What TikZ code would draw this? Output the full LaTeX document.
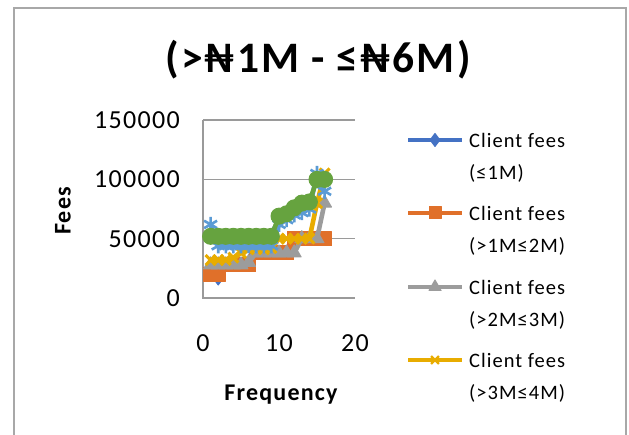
\documentclass[tikz,border=0pt]{standalone}
\usepackage{fontspec}
\setmainfont{Carlito}[LetterSpace=5]
\usetikzlibrary{plotmarks}

\definecolor{serA}{HTML}{4472C4}
\definecolor{serB}{HTML}{E0702A}
\definecolor{serC}{HTML}{9C9C9C}
\definecolor{serD}{HTML}{E8AC00}
\definecolor{serE}{HTML}{5B9BD5}
\definecolor{serF}{HTML}{66A33F}
\definecolor{gridgray}{HTML}{9A9A9A}
\definecolor{framegray}{HTML}{A8A8A8}

\tikzset{
  gridline/.style={draw=gridgray, line width=1.6pt},
  series/.style={draw=#1, line width=4.6pt, line join=round,
    mark options={draw=#1, fill=#1, solid, line width=1pt}},
  keyseries/.style={series=#1, line width=4.2pt},
  ticklabel/.style={font=\fontsize{26}{28}\selectfont, inner sep=0pt},
  keytext/.style={font=\fontsize{20.5}{24}\selectfont, anchor=west, inner sep=0pt},
  axistitle/.style={font=\bfseries\fontsize{24}{27}\selectfont, inner sep=0pt},
}

\begin{document}
\begin{tikzpicture}[x=1pt, y=1pt]
    \useasboundingbox (0,0) rectangle (629,435);
    \clip (0,0) rectangle (629,435);
    \draw[framegray, line width=2pt] (13.5,-10) rectangle (626,426.5);

    \node (title) [font=\bfseries\fontsize{43.5}{48}\selectfont, inner sep=0pt] at (318,375) {(>₦1M - ≤₦6M)};
    \node (ytitle) [axistitle, rotate=90] at (63,224) {Fees};
    \node (xtitle) [axistitle] at (281,40) {Frequency};

    % plot area: frequency 0..20 across, fees in thousands up
    \begin{scope}[shift={(203,137)}, x=7.6pt, y=1.186pt]
        \draw[gridline] (0,50) -- (20,50);
        \draw[gridline] (0,100) -- (20,100);
        \draw[gridline] (0,150) -- (20,150);
        \draw[gridline] (0,150) -- (0,0) -- (20,0);

        \node (y0)   [ticklabel, anchor=east] at ([xshift=-23pt]0,0)   {0};
        \node (y50)  [ticklabel, anchor=east] at ([xshift=-23pt]0,50)  {50000};
        \node (y100) [ticklabel, anchor=east] at ([xshift=-23pt]0,100) {100000};
        \node (y150) [ticklabel, anchor=east] at ([xshift=-23pt]0,150) {150000};
        \node (x0)  [ticklabel] at ([yshift=-45pt]0,0)  {0};
        \node (x10) [ticklabel] at ([yshift=-45pt]10,0) {10};
        \node (x20) [ticklabel] at ([yshift=-45pt]20,0) {20};

        \draw[series=serA] plot[mark=diamond*, mark size=6pt] coordinates {
            (1,20) (2,16) (3,28) (4,28) (5,28) (6,28) (7,38) (8,38)
            (9,38) (10,38) (11,38) (12,50) (13,50) (14,50) (15,50) (16,50)};
        \draw[series=serB] plot[mark=square*, mark size=7pt] coordinates {
            (1,20) (2,20) (3,28) (4,28) (5,28) (6,28) (7,38) (8,38)
            (9,38) (10,38) (11,38) (12,50) (13,50) (14,50) (15,50) (16,50)};
        \draw[series=serC] plot[mark=triangle*, mark size=8pt] coordinates {
            (1,28) (2,28) (3,28) (4,28) (5,28) (6,30) (7,38) (8,38)
            (9,38) (10,38) (11,38) (12,38) (13,50) (14,50) (15,50) (16,80)};
        \draw[series=serD, mark options={line width=3pt}] plot[mark=x, mark size=7pt] coordinates {
            (1,32) (2,32) (3,32) (4,34) (5,38) (6,41) (7,42) (8,41)
            (9,42) (10,50) (11,50) (12,50) (13,50) (14,50) (15,80) (16,105)};
        \draw[series=serE, mark options={line width=2.6pt}] plot[mark=asterisk, mark size=7.5pt] coordinates {
            (1,62) (2,44) (3,44) (4,44) (5,44) (6,44) (7,44) (8,44)
            (9,44) (10,62) (11,66) (12,70) (13,72) (14,75) (15,105) (16,90)};
        \draw[series=serF] plot[mark=*, mark size=8pt] coordinates {
            (1,52) (2,52) (3,52) (4,52) (5,52) (6,52) (7,52) (8,52)
            (9,52) (10,69) (11,71) (12,76) (13,80) (14,81) (15,100) (16,100)};
    \end{scope}

    % legend
    \draw[keyseries=serA] (408,295) -- (462,295) plot[only marks, mark=diamond*, mark size=6.5pt] coordinates {(435,295)};
    \node (k1a) [keytext] at (469,295) {Client fees};
    \node (k1b) [keytext] at (469,262) {(≤1M)};
    \draw[keyseries=serB] (408,222) -- (462,222) plot[only marks, mark=square*, mark size=6pt] coordinates {(435,222)};
    \node (k2a) [keytext] at (469,222) {Client fees};
    \node (k2b) [keytext] at (469,189) {(>1M≤2M)};
    \draw[keyseries=serC] (408,148) -- (462,148) plot[only marks, mark=triangle*, mark size=7pt] coordinates {(435,148)};
    \node (k3a) [keytext] at (469,148) {Client fees};
    \node (k3b) [keytext] at (469,115) {(>2M≤3M)};
    \draw[keyseries=serD, mark options={line width=2.4pt}] (408,75) -- (462,75) plot[only marks, mark=x, mark size=5.5pt] coordinates {(435,75)};
    \node (k4a) [keytext] at (469,75) {Client fees};
    \node (k4b) [keytext] at (469,42) {(>3M≤4M)};
\end{tikzpicture}
\end{document}
